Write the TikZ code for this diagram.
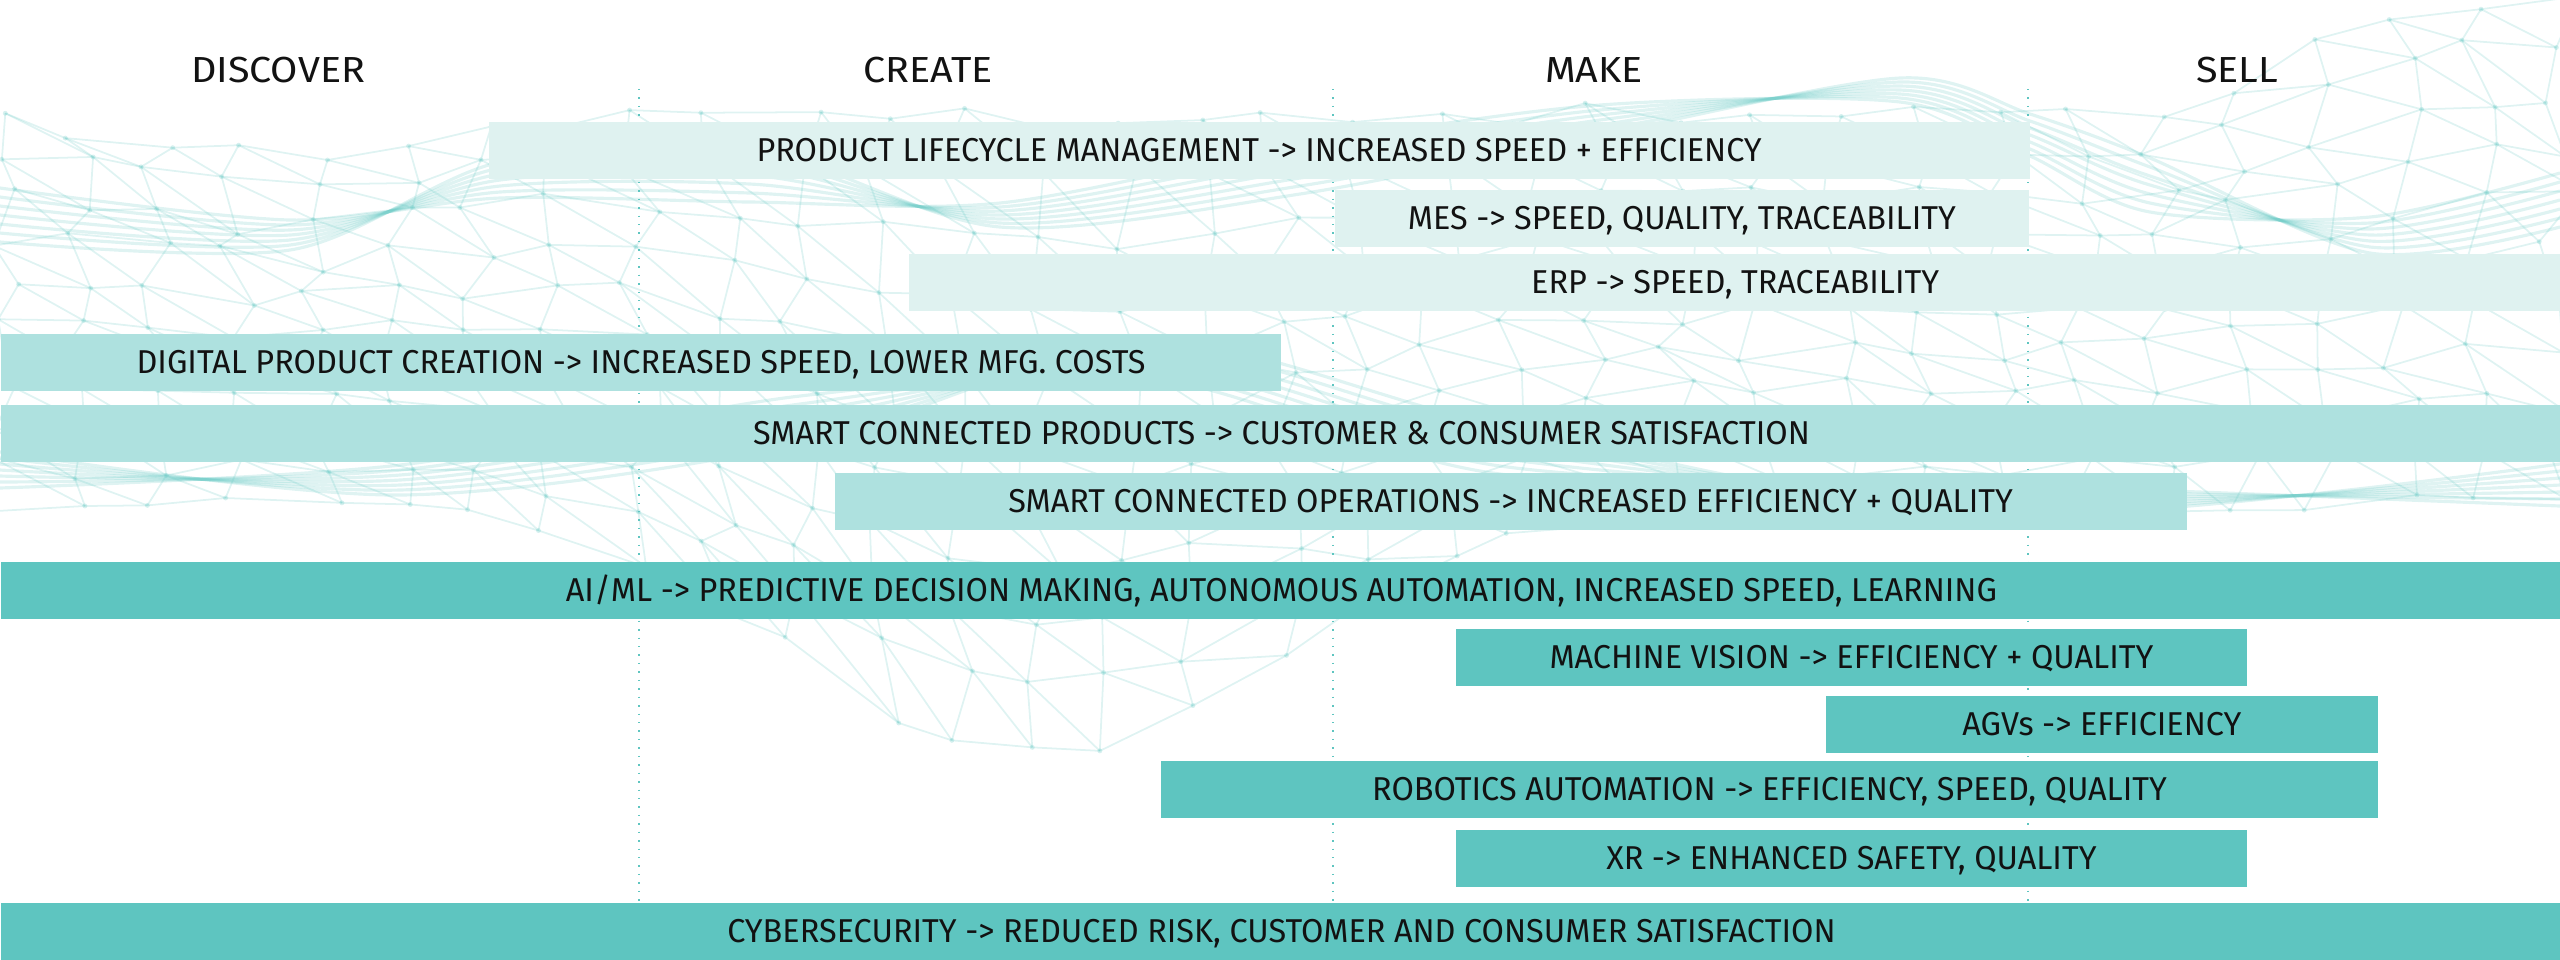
\documentclass[tikz,border=0pt]{standalone}
\usepackage{fontspec}
\setmainfont{Fira Sans}
\newfontfamily\barfont[FakeStretch=0.98]{Fira Sans}
\newfontfamily\phasefont[FakeStretch=1.09]{Fira Sans}
\usetikzlibrary{positioning}

\definecolor{barlight}{HTML}{DFF2F0}
\definecolor{barmid}{HTML}{AEE1DF}
\definecolor{bardark}{HTML}{5EC5C0}
\definecolor{ink}{HTML}{121212}

\tikzset{
  bar/.style={rectangle, inner sep=0pt, anchor=north west, minimum height=0.575cm,
    text=ink, font=\barfont\fontsize{9.4}{11}\selectfont, text height=6.5pt, text depth=0pt},
  phase/.style={text=ink, font=\phasefont\fontsize{10.3}{12}\selectfont, text height=7.1pt, text depth=0pt},
  divider/.style={draw=bardark, line width=0.4pt, dotted},
  meshline/.style={draw=bardark, opacity=0.2, line width=0.5pt},
  meshdot/.style={fill=bardark, opacity=0.25},
  strand/.style={draw=bardark, opacity=0.2, line width=0.9pt},
}

\begin{document}
\begin{tikzpicture}[x=0.01cm, y=-0.01cm]
    \useasboundingbox (0,0) rectangle (2560,959);

    % background mesh
    \pgfmathsetseed{42}
    \foreach \i in {0,...,32}{
        \foreach \j in {0,...,10}{
            \pgfmathsetmacro\xx{80*\i + 22*rand}
            \pgfmathsetmacro\ua{min(9,((\xx-290)/200)*((\xx-290)/200))}
            \pgfmathsetmacro\ub{min(9,((\xx-1040)/340)*((\xx-1040)/340))}
            \pgfmathsetmacro\tp{max(0, 115 + 40*exp(-\ua) - 0.4*max(0,\xx-2150))}
            \pgfmathsetmacro\bt{505 + 250*exp(-\ub)}
            \pgfmathsetmacro\yy{\tp + (\bt-\tp)*\j/10 + 12*rand}
            \coordinate (m-\i-\j) at (\xx,\yy);
        }
    }
    \foreach \i in {0,...,31}{
        \pgfmathtruncatemacro\ni{\i+1}
        \foreach \j in {0,...,9}{
            \pgfmathtruncatemacro\nj{\j+1}
            \draw[meshline] (m-\i-\j) -- (m-\ni-\j);
            \draw[meshline] (m-\i-\j) -- (m-\i-\nj);
            \draw[meshline] (m-\i-\j) -- (m-\ni-\nj);
        }
        \draw[meshline] (m-\i-10) -- (m-\ni-10);
    }
    \foreach \j in {0,...,9}{
        \pgfmathtruncatemacro\nj{\j+1}
        \draw[meshline] (m-32-\j) -- (m-32-\nj);
    }
    \foreach \i in {0,...,32}{
        \foreach \j in {0,...,10}{
            \fill[meshdot] (m-\i-\j) circle (0.7pt);
        }
    }
    \foreach \k in {-3,...,3}{
        \draw[strand] plot[smooth] coordinates {(0,{215+9*\k}) (290,{235+5*\k}) (500,{180-6*\k})
            (750,{175-9*\k}) (1000,{215+4*\k}) (1300,{170+8*\k}) (1600,{120+5*\k})
            (1900,{90-4*\k}) (2030,{135-7*\k}) (2150,{185-9*\k}) (2370,{235+6*\k}) (2560,{200+9*\k})};
        \draw[strand] plot[smooth] coordinates {(0,{470+6*\k}) (400,{480-5*\k}) (800,{420-8*\k})
            (1150,{360+6*\k}) (1500,{450+8*\k}) (2000,{500-5*\k}) (2560,{485+7*\k})};
    }

    % phase dividers
    \coordinate (d1a) at (639,89);
    \coordinate (d1b) at (639,902);
    \coordinate (d2a) at (1333,89);
    \coordinate (d2b) at (1333,902);
    \coordinate (d3a) at (2028,89);
    \coordinate (d3b) at (2028,902);
    \draw[divider] (d1a) -- (d1b);
    \draw[divider] (d2a) -- (d2b);
    \draw[divider] (d3a) -- (d3b);

    % phases
    \node(discover) [phase] at (278,70) {DISCOVER};
    \node(create) [phase] at (928,70) {CREATE};
    \node(make) [phase] at (1594,70) {MAKE};
    \node(sell) [phase] at (2237,70) {SELL};

    % bars
    \node(plm) [bar, fill=barlight, minimum width=15.40cm] at (488,121) {PRODUCT LIFECYCLE MANAGEMENT -> INCREASED SPEED + EFFICIENCY};
    \node(mes) [bar, fill=barlight, minimum width=6.94cm] at (1334,189) {MES -> SPEED, QUALITY, TRACEABILITY};
    \node(erp) [bar, fill=barlight, minimum width=16.52cm] at (908,253) {ERP -> SPEED, TRACEABILITY};
    \node(dpc) [bar, fill=barmid, minimum width=12.80cm] at (0,333) {DIGITAL PRODUCT CREATION -> INCREASED SPEED, LOWER MFG. COSTS};
    \node(scp) [bar, fill=barmid, minimum width=25.60cm] at (0,404) {SMART CONNECTED PRODUCTS -> CUSTOMER \& CONSUMER SATISFACTION};
    \node(sco) [bar, fill=barmid, minimum width=13.51cm] at (834,472) {SMART CONNECTED OPERATIONS -> INCREASED EFFICIENCY + QUALITY};
    \node(aiml) [bar, fill=bardark, minimum width=25.60cm] at (0,561) {AI/ML -> PREDICTIVE DECISION MAKING, AUTONOMOUS AUTOMATION, INCREASED SPEED, LEARNING};
    \node(mv) [bar, fill=bardark, minimum width=7.91cm] at (1455,628) {MACHINE VISION -> EFFICIENCY + QUALITY};
    \node(agv) [bar, fill=bardark, minimum width=5.52cm] at (1825,695) {AGVs -> EFFICIENCY};
    \node(rob) [bar, fill=bardark, minimum width=12.17cm] at (1160,760) {ROBOTICS AUTOMATION -> EFFICIENCY, SPEED, QUALITY};
    \node(xr) [bar, fill=bardark, minimum width=7.91cm] at (1455,829) {XR -> ENHANCED SAFETY, QUALITY};
    \node(cyber) [bar, fill=bardark, minimum width=25.60cm, minimum height=0.57cm] at (0,902) {CYBERSECURITY -> REDUCED RISK, CUSTOMER AND CONSUMER SATISFACTION};
\end{tikzpicture}
\end{document}
